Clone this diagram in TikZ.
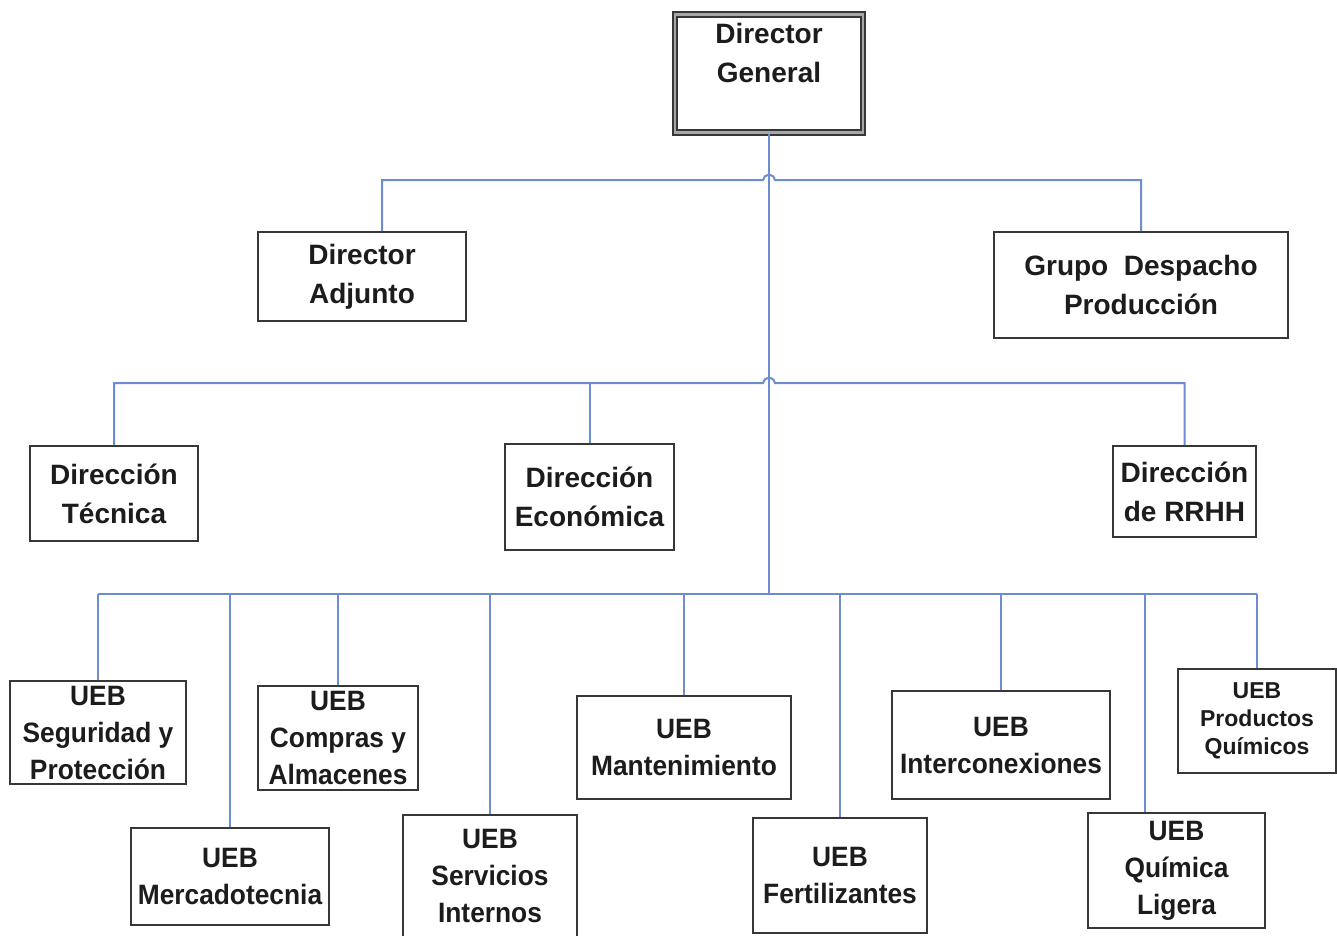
\documentclass[tikz,border=0pt]{standalone}
\usepackage{fontspec}
\setmainfont{Liberation Sans}
\newfontfamily\uebfont{Liberation Sans}[FakeStretch=0.94]
\definecolor{conncol}{RGB}{108,142,206}
\definecolor{boxcol}{RGB}{55,55,55}
\definecolor{txtcol}{RGB}{28,28,28}
\tikzset{
  box/.style={draw=boxcol, line width=2pt, fill=white, inner sep=0pt, align=center, text=txtcol,
     font=\fontsize{28}{39}\selectfont\bfseries},
  uebbox/.style={box, font=\uebfont\fontsize{28}{37}\selectfont\bfseries},
  smallbox/.style={box, font=\fontsize{23}{28}\selectfont\bfseries},
  dgbox/.style={draw=boxcol, line width=2pt, double=gray!70, double distance=2.5pt, fill=white, inner sep=0pt},
  conn/.style={draw=conncol, line width=2pt},
}
\begin{document}
\begin{tikzpicture}[x=1pt,y=-1pt]
\clip (0,0) rectangle (1337,935);
\fill[white] (0,0) rectangle (1337,935);

% bus junctions on the trunk
\coordinate (b1) at (769,180);
\coordinate (b2) at (769,383);
\coordinate (b3) at (769,594);

\node[dgbox, minimum width=188pt, minimum height=118pt,
      label={[align=center, text=txtcol, font=\fontsize{28}{39}\selectfont\bfseries, yshift=21pt]center:Director\\General}]
      (dg) at (769,73.5) {};

\node[box, minimum width=208pt, minimum height=89pt] (adj) at (362,276.5) {Director\\Adjunto};
\node[box, minimum width=294pt, minimum height=106pt] (grp) at (1141,285) {Grupo~~Despacho\\Producción};

\node[box, minimum width=168pt, minimum height=95pt] (tec) at (114,493.5) {Dirección\\Técnica};
\node[box, minimum width=169pt, minimum height=106pt] (eco) at (589.5,497) {Dirección\\Económica};
\node[box, minimum width=143pt, minimum height=91pt] (rrhh) at (1184.5,491.5) {Dirección\\de RRHH};

\node[uebbox, minimum width=176pt, minimum height=103pt] (seg) at (98,732.5) {UEB\\Seguridad y\\Protección};
\node[uebbox, minimum width=198pt, minimum height=97pt] (mer) at (230,876.5) {UEB\\Mercadotecnia};
\node[uebbox, minimum width=160pt, minimum height=104pt] (com) at (338,738) {UEB\\Compras y\\Almacenes};
\node[uebbox, minimum width=174pt, minimum height=122pt] (ser) at (490,876) {UEB\\Servicios\\Internos};
\node[uebbox, minimum width=214pt, minimum height=103pt] (man) at (684,747.5) {UEB\\Mantenimiento};
\node[uebbox, minimum width=174pt, minimum height=115pt] (fer) at (840,875.5) {UEB\\Fertilizantes};
\node[uebbox, minimum width=218pt, minimum height=108pt] (int) at (1001,745) {UEB\\Interconexiones};
\node[uebbox, minimum width=177pt, minimum height=115pt] (qli) at (1176.5,870.5) {UEB\\Química\\Ligera};
\node[smallbox, minimum width=158pt, minimum height=104pt] (pro) at (1257,721) {UEB\\Productos\\Químicos};

% trunk
\draw[conn] (dg.south) -- (b3);

% level 1 bus with hop
\draw[conn] ([xshift=20pt]adj.north) -- ([xshift=20pt]adj.north |- b1) -- ([xshift=-6pt]b1)
   arc[start angle=180, end angle=0, x radius=6pt, y radius=5pt] -- (grp.north |- b1) -- (grp.north);

% level 2 bus with hop
\draw[conn] (tec.north) -- (tec.north |- b2) -- ([xshift=-6pt]b2)
   arc[start angle=180, end angle=0, x radius=6pt, y radius=5pt] -- (rrhh.north |- b2) -- (rrhh.north);
\draw[conn] (eco.north |- b2) -- (eco.north);

% level 3 bus
\draw[conn] (seg.north |- b3) -- (pro.north |- b3);
\draw[conn] (seg.north |- b3) -- (seg.north);
\draw[conn] (mer.north |- b3) -- (mer.north);
\draw[conn] (com.north |- b3) -- (com.north);
\draw[conn] (ser.north |- b3) -- (ser.north);
\draw[conn] (man.north |- b3) -- (man.north);
\draw[conn] (fer.north |- b3) -- (fer.north);
\draw[conn] (int.north |- b3) -- (int.north);
\draw[conn] ([xshift=-31.5pt]qli.north |- b3) -- ([xshift=-31.5pt]qli.north);
\draw[conn] (pro.north |- b3) -- (pro.north);
\end{tikzpicture}
\end{document}
